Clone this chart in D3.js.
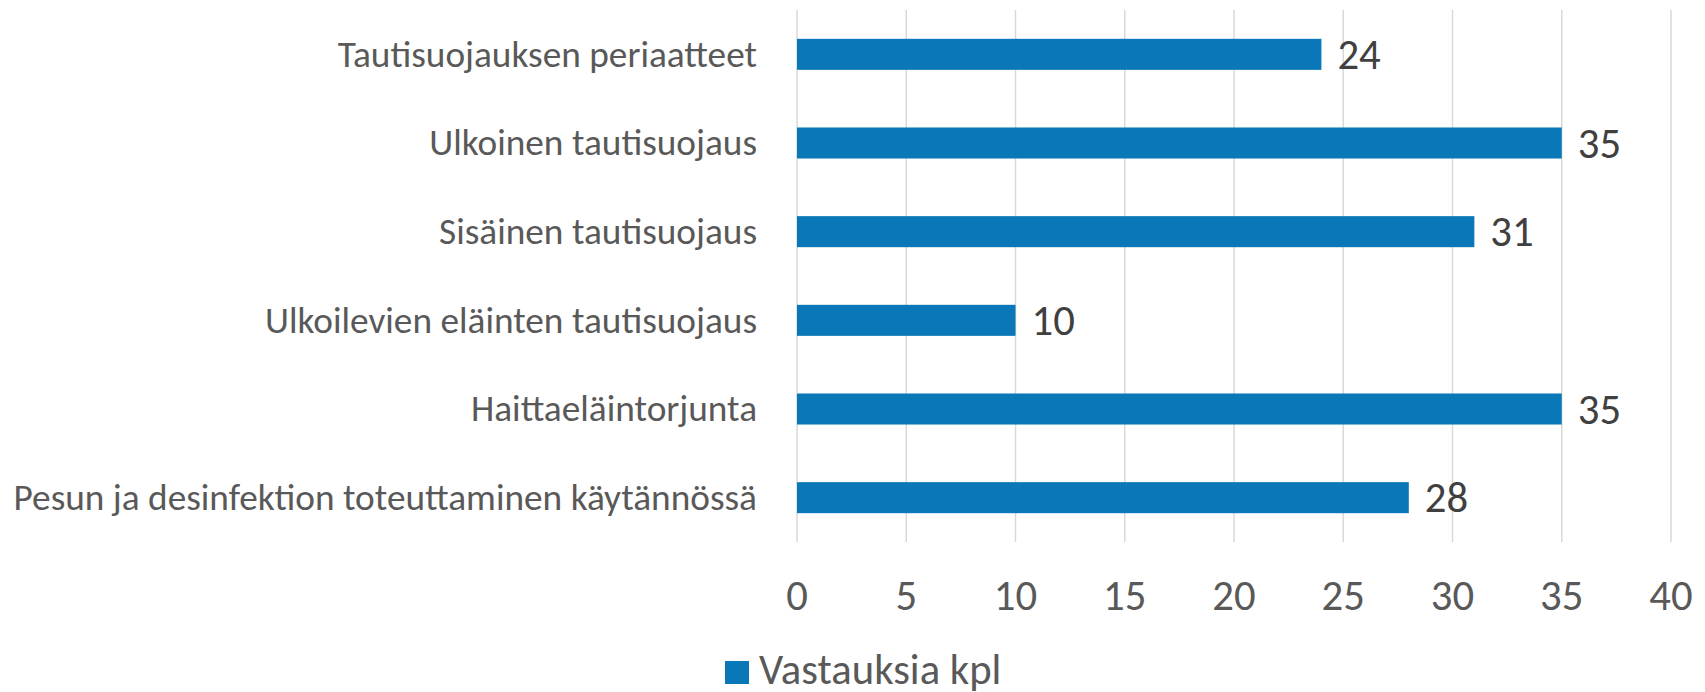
<!DOCTYPE html>
<html>
<head>
<meta charset="utf-8">
<script src="https://cdn.jsdelivr.net/npm/d3@7"></script>
<style>
  body { margin: 0; background: #fff; }
  text { font-family: Carlito, "Open Sans", "Noto Sans", sans-serif; }
</style>
</head>
<body>
<script>
const width = 1705
const height = 692

const categories = [
  'Tautisuojauksen periaatteet',
  'Ulkoinen tautisuojaus',
  'Sisäinen tautisuojaus',
  'Ulkoilevien eläinten tautisuojaus',
  'Haittaeläintorjunta',
  'Pesun ja desinfektion toteuttaminen käytännössä'
]
const values = [24, 35, 31, 10, 35, 28]
const ticks = [0, 5, 10, 15, 20, 25, 30, 35, 40]
const seriesName = 'Vastauksia kpl'

const barColor = '#0a77b9'

const svg = d3.select('body').append('svg')
  .attr('width', width)
  .attr('height', height)

const x = d3.scaleLinear()
  .domain([0, 40])
  .range([797, 1671])

const y = d3.scaleBand()
  .domain(categories)
  .range([10, 542])
  .paddingInner(0.65)
  .paddingOuter(0.325)

// vertical gridlines
svg.append('g')
  .selectAll('line')
  .data(ticks)
  .enter().append('line')
  .attr('x1', d => x(d))
  .attr('x2', d => x(d))
  .attr('y1', 10)
  .attr('y2', 542)
  .attr('stroke', '#d9d9d9')
  .attr('stroke-width', 1.5)

// x tick labels
svg.append('g')
  .selectAll('text')
  .data(ticks)
  .enter().append('text')
  .attr('x', d => x(d))
  .attr('y', 610)
  .attr('text-anchor', 'middle')
  .attr('font-size', 42.7)
  .attr('fill', '#595959')
  .text(d => d)

// category labels
svg.append('g')
  .selectAll('text')
  .data(categories)
  .enter().append('text')
  .attr('x', 757)
  .attr('y', d => y(d) + y.bandwidth() / 2)
  .attr('dy', '0.33em')
  .attr('text-anchor', 'end')
  .attr('font-size', 37.3)
  .attr('fill', '#595959')
  .text(d => d)

// bars
svg.append('g')
  .selectAll('rect')
  .data(values)
  .enter().append('rect')
  .attr('x', x(0))
  .attr('y', (d, i) => y(categories[i]))
  .attr('width', d => x(d) - x(0))
  .attr('height', y.bandwidth())
  .attr('fill', barColor)

// value labels
svg.append('g')
  .selectAll('text')
  .data(values)
  .enter().append('text')
  .attr('x', d => x(d) + 16)
  .attr('y', (d, i) => y(categories[i]) + y.bandwidth() / 2)
  .attr('dy', '0.34em')
  .attr('font-size', 42.7)
  .attr('fill', '#404040')
  .text(d => d)

// legend
const legend = svg.append('g')
legend.append('rect')
  .attr('x', 725)
  .attr('y', 661)
  .attr('width', 24)
  .attr('height', 23)
  .attr('fill', barColor)
legend.append('text')
  .attr('x', 759)
  .attr('y', 684)
  .attr('font-size', 42.7)
  .attr('fill', '#595959')
  .text(seriesName)
</script>
</body>
</html>
